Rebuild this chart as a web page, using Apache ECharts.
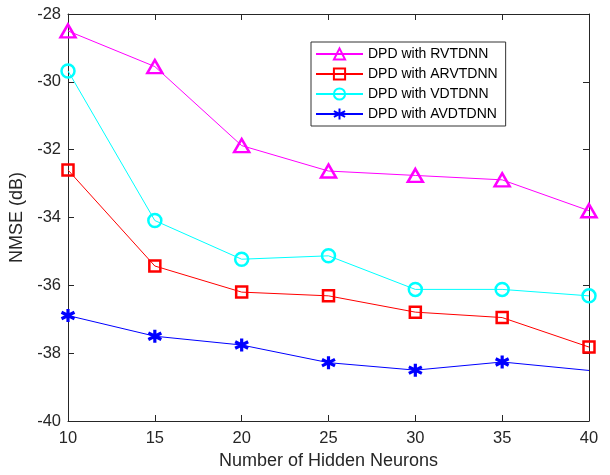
<!DOCTYPE html>
<html>
<head>
<meta charset="utf-8">
<script src="https://cdn.jsdelivr.net/npm/echarts@6/dist/echarts.min.js"></script>
<style>html,body{margin:0;padding:0;background:#fff}#c{width:610px;height:475px}</style>
</head>
<body>
<div id="c"></div>
<script>
const neurons = [10, 15, 20, 25, 30, 35, 40];
const rvtdnn  = [-28.5, -29.55, -31.88, -32.63, -32.76, -32.89, -33.80];
const arvtdnn = [-32.60, -35.43, -36.20, -36.31, -36.79, -36.95, -37.82];
const vdtdnn  = [-29.68, -34.09, -35.23, -35.13, -36.12, -36.12, -36.31];
const avdtdnn = [-36.89, -37.50, -37.76, -38.28, -38.50, -38.26, -38.51];
const seriesNames = ['DPD with RVTDNN', 'DPD with ARVTDNN', 'DPD with VDTDNN', 'DPD with AVDTDNN'];
const yTicks = [-40, -38, -36, -34, -32, -30, -28];

const font = 'Liberation Sans, Arial, sans-serif';
const asterisk = 'path://M0,-10L0,10M-8.66,-5L8.66,5M-8.66,5L8.66,-5';

function pairs(vals){ return neurons.map((x,i)=>[x, vals[i]]); }

const chart = echarts.init(document.getElementById('c'), null, {renderer:'canvas'});
const axisCommon = {
  axisLine:{show:true, onZero:false, lineStyle:{color:'#262626', width:1}},
  axisTick:{show:true, inside:true, length:6, lineStyle:{color:'#262626'}},
  splitLine:{show:false}
};
const avdData = pairs(avdtdnn).map((p,i)=> i===neurons.length-1 ? {value:p, symbol:'none'} : p);

chart.setOption({
  animation:false,
  backgroundColor:'#fff',
  grid:{left:68, right:21, top:14, bottom:50, containLabel:false},
  legend:{
    orient:'vertical', left:311, top:42, padding:[5,8,5,4],
    itemWidth:47, itemHeight:14, itemGap:6,
    backgroundColor:'#fff', borderColor:'#333', borderWidth:1,
    textStyle:{fontFamily:font, fontSize:14, color:'#000'},
    data:seriesNames
  },
  xAxis:[
    Object.assign({type:'value', min:10, max:40, interval:5, position:'bottom',
      name:'Number of Hidden Neurons', nameLocation:'middle', nameGap:31,
      nameTextStyle:{fontFamily:font, fontSize:18, color:'#262626'},
      axisLabel:{fontFamily:font, fontSize:16.5, color:'#262626', margin:9}}, axisCommon),
    Object.assign({type:'value', min:10, max:40, interval:5, position:'top',
      axisLabel:{show:false}}, axisCommon)
  ],
  yAxis:[
    Object.assign({type:'value', min:yTicks[0], max:yTicks[yTicks.length-1], interval:2, position:'left',
      name:'NMSE (dB)', nameLocation:'middle', nameGap:37,
      nameTextStyle:{fontFamily:font, fontSize:18, color:'#262626'},
      axisLabel:{fontFamily:font, fontSize:16.5, color:'#262626', margin:7}}, axisCommon),
    Object.assign({type:'value', min:yTicks[0], max:yTicks[yTicks.length-1], interval:2, position:'right',
      axisLabel:{show:false}}, axisCommon)
  ],
  series:[
    {name:seriesNames[0], type:'line', data:pairs(rvtdnn), symbol:'triangle', symbolSize:[15,13],
     lineStyle:{color:'#FF00FF', width:1}, itemStyle:{color:'rgba(255,255,255,0)', borderColor:'#FF00FF', borderWidth:2.5}, color:'#FF00FF', z:4},
    {name:seriesNames[1], type:'line', data:pairs(arvtdnn), symbol:'rect', symbolSize:11,
     lineStyle:{color:'#FF0000', width:1}, itemStyle:{color:'rgba(255,255,255,0)', borderColor:'#FF0000', borderWidth:2.5}, color:'#FF0000', z:3},
    {name:seriesNames[2], type:'line', data:pairs(vdtdnn), symbol:'circle', symbolSize:13,
     lineStyle:{color:'#00FFFF', width:1}, itemStyle:{color:'rgba(255,255,255,0)', borderColor:'#00FFFF', borderWidth:2.5}, color:'#00FFFF', z:2},
    {name:seriesNames[3], type:'line', data:avdData, symbol:asterisk, symbolSize:13,
     lineStyle:{color:'#0000FF', width:1}, itemStyle:{color:'#0000FF', borderColor:'#0000FF', borderWidth:3.2}, color:'#0000FF', z:1}
  ]
});
</script>
</body>
</html>
